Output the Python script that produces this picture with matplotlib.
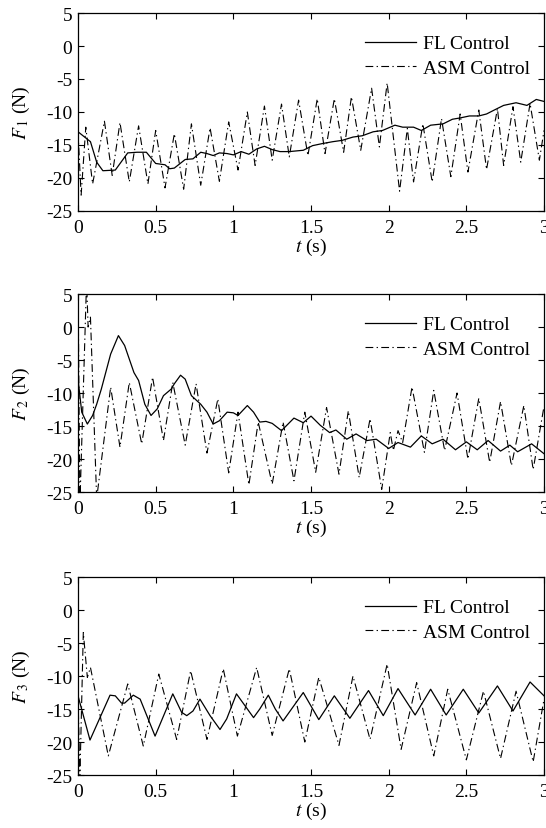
import matplotlib
matplotlib.use('Agg')
import matplotlib.pyplot as plt

plt.rcParams['font.family'] = ['Liberation Serif', 'DejaVu Serif']
plt.rcParams['mathtext.fontset'] = 'stix'
plt.rcParams['axes.unicode_minus'] = False
plt.rcParams['font.size'] = 14

# --- F1 ---
t1_fl = [0, 0.08, 0.12, 0.16, 0.24, 0.32, 0.38, 0.44, 0.50, 0.56, 0.59, 0.62, 0.69, 0.74, 0.79, 0.83,
         0.87, 0.91, 0.96, 1.00, 1.05, 1.10, 1.15, 1.20, 1.25, 1.30, 1.36, 1.45, 1.51, 1.57, 1.64,
         1.70, 1.77, 1.83, 1.90, 1.96, 2.04, 2.09, 2.16, 2.21, 2.27, 2.35, 2.41, 2.46, 2.52, 2.58,
         2.63, 2.68, 2.74, 2.82, 2.89, 2.95, 3.0]
f1_fl = [-13.0, -14.5, -17.6, -18.9, -18.8, -16.2, -16.1, -16.1, -17.8, -18.0, -18.6, -18.5, -17.2,
         -17.1, -16.1, -16.3, -16.6, -16.2, -16.3, -16.5, -16.0, -16.4, -15.6, -15.2, -15.7, -16.0,
         -16.0, -15.8, -15.1, -14.8, -14.5, -14.3, -13.8, -13.6, -13.0, -12.8, -12.0, -12.3, -12.3,
         -12.8, -12.0, -11.8, -11.1, -10.9, -10.6, -10.6, -10.3, -9.7, -9.0, -8.6, -9.0, -8.1, -8.4]
t1_asm = [0, 0.02, 0.05, 0.094, 0.17, 0.22, 0.27, 0.33, 0.39, 0.45, 0.50, 0.56, 0.62, 0.68, 0.73,
          0.79, 0.85, 0.91, 0.97, 1.03, 1.09, 1.14, 1.20, 1.25, 1.31, 1.36, 1.42, 1.48, 1.54, 1.59,
          1.65, 1.71, 1.76, 1.82, 1.89, 1.94, 1.99, 2.07, 2.12, 2.16, 2.22, 2.28, 2.34, 2.40, 2.46,
          2.51, 2.58, 2.63, 2.70, 2.74, 2.80, 2.85, 2.91, 2.97, 3.0]
f1_asm = [-13.0, -22.6, -12.3, -20.9, -11.4, -19.6, -11.6, -20.6, -12.1, -20.9, -12.8, -21.5, -13.3,
          -21.7, -11.8, -21.1, -12.4, -20.5, -11.5, -18.8, -10.0, -18.1, -9.1, -17.3, -8.8, -16.8,
          -8.2, -16.6, -8.0, -16.3, -8.0, -16.1, -7.7, -15.8, -6.4, -15.3, -5.6, -22.0, -12.5, -20.6,
          -11.8, -20.6, -11.0, -19.8, -10.3, -19.1, -9.7, -18.7, -9.5, -18.1, -9.2, -17.6, -8.7,
          -17.3, -12.8]

# --- F2 ---
t2_fl = [0, 0.024, 0.06, 0.094, 0.12, 0.15, 0.21, 0.26, 0.30, 0.36, 0.39, 0.43, 0.47, 0.51, 0.55,
         0.60, 0.62, 0.66, 0.69, 0.73, 0.79, 0.83, 0.87, 0.91, 0.96, 1.00, 1.03, 1.09, 1.13, 1.17,
         1.21, 1.25, 1.31, 1.39, 1.45, 1.50, 1.56, 1.62, 1.66, 1.73, 1.79, 1.86, 1.92, 2.00, 2.06,
         2.14, 2.21, 2.28, 2.35, 2.43, 2.50, 2.57, 2.64, 2.72, 2.78, 2.83, 2.92, 3.0]
f2_fl = [-7.9, -12.9, -14.7, -13.4, -11.7, -9.4, -4.1, -1.3, -2.8, -6.9, -8.1, -11.7, -13.4, -12.4,
         -10.4, -9.4, -8.6, -7.3, -7.9, -10.4, -11.7, -12.9, -14.7, -14.2, -12.9, -13.0, -13.4,
         -11.9, -12.9, -14.4, -14.3, -14.6, -15.7, -13.8, -14.5, -13.5, -14.9, -16.0, -15.6, -17.0,
         -16.2, -17.2, -17.0, -18.4, -17.5, -18.2, -16.5, -17.7, -17.0, -18.6, -17.4, -18.6, -17.2,
         -18.8, -17.9, -18.9, -17.7, -19.2]
t2_asm = [0, 0.012, 0.055, 0.065, 0.08, 0.12, 0.21, 0.27, 0.33, 0.41, 0.48, 0.55, 0.61, 0.69, 0.76,
          0.83, 0.90, 0.97, 1.03, 1.10, 1.16, 1.25, 1.32, 1.39, 1.46, 1.53, 1.60, 1.68, 1.74, 1.81,
          1.88, 1.955, 2.01, 2.03, 2.06, 2.09, 2.15, 2.23, 2.29, 2.36, 2.44, 2.51, 2.58, 2.65, 2.72,
          2.79, 2.87, 2.93, 3.0]
f2_asm = [7.0, -27.0, 7.0, 0.0, 1.5, -26.0, -9.1, -18.2, -8.4, -17.7, -7.6, -17.2, -8.4, -17.9,
          -8.6, -19.1, -10.9, -22.1, -12.9, -23.9, -14.4, -23.8, -14.4, -23.3, -12.9, -22.0, -12.2,
          -22.3, -12.7, -22.8, -13.9, -24.6, -16.0, -18.7, -15.7, -17.5, -9.1, -19.0, -9.6, -18.7,
          -10.0, -20.0, -10.8, -20.5, -11.3, -21.0, -11.9, -21.6, -12.0]

# --- F3 ---
t3_fl = [0, 0.077, 0.206, 0.24, 0.28, 0.30, 0.356, 0.40, 0.496, 0.61, 0.667, 0.70, 0.74, 0.785,
         0.85, 0.914, 0.957, 1.02, 1.075, 1.13, 1.17, 1.225, 1.27, 1.32, 1.45, 1.55, 1.65, 1.75,
         1.87, 1.965, 2.06, 2.17, 2.27, 2.37, 2.48, 2.58, 2.70, 2.80, 2.91, 3.0]
f3_fl = [-13.0, -19.7, -12.9, -13.0, -14.1, -14.1, -12.9, -13.5, -19.1, -12.7, -15.5, -16.0, -15.3,
         -13.5, -16.0, -18.1, -16.5, -12.7, -14.5, -16.3, -15.0, -12.9, -15.0, -16.8, -12.5, -16.6,
         -13.0, -16.4, -12.2, -16.0, -11.9, -15.9, -12.0, -15.9, -12.0, -15.6, -11.5, -15.3, -10.9,
         -13.0]
t3_asm = [0, 0.012, 0.034, 0.06, 0.08, 0.195, 0.32, 0.42, 0.52, 0.635, 0.725, 0.83, 0.935, 1.026,
          1.15, 1.25, 1.36, 1.46, 1.55, 1.68, 1.77, 1.88, 1.99, 2.08, 2.18, 2.29, 2.38, 2.50, 2.61,
          2.72, 2.82, 2.93, 3.0]
f3_asm = [-13.0, -25.5, -3.4, -10.2, -8.7, -22.1, -11.2, -20.6, -9.7, -19.6, -9.2, -19.6, -8.9,
          -19.1, -8.7, -19.0, -8.9, -20.0, -10.2, -20.5, -10.0, -19.6, -8.2, -21.1, -11.0, -22.1,
          -12.0, -22.7, -12.3, -22.5, -12.3, -23.0, -13.5]

series = [(t1_fl, f1_fl, t1_asm, f1_asm, r'$F_{\,1}$ (N)'),
          (t2_fl, f2_fl, t2_asm, f2_asm, r'$F_{\,2}$ (N)'),
          (t3_fl, f3_fl, t3_asm, f3_asm, r'$F_{\,3}$ (N)')]

fig = plt.figure(figsize=(5.46, 8.29), dpi=100)
bottoms = [0.7443, 0.4053, 0.0639]

for (tf, ff, ta, fa, ylab), b in zip(series, bottoms):
    ax = fig.add_axes([0.1429, b, 0.8535, 0.2388])
    ax.plot(tf, ff, color='black', lw=0.9, label='FL Control')
    ax.plot(ta, fa, color='black', lw=0.8, dashes=(7, 3, 1.2, 3), label='ASM Control')
    ax.set_xlim(0, 3)
    ax.set_ylim(-25, 5)
    ax.set_xticks([0, 0.5, 1, 1.5, 2, 2.5, 3])
    ax.set_xticklabels(['0', '0.5', '1', '1.5', '2', '2.5', '3'])
    ax.set_yticks([-25, -20, -15, -10, -5, 0, 5])
    ax.tick_params(direction='in', top=True, right=True, length=4, width=0.8, labelsize=14)
    ax.tick_params(axis='x', pad=5.5)
    ax.tick_params(axis='y', pad=4)
    for s in ax.spines.values():
        s.set_linewidth(0.9)
    ax.set_xlabel(r'$t$ (s)', fontsize=14, labelpad=0)
    ax.set_ylabel(ylab, fontsize=14, labelpad=10)
    ax.legend(loc='upper right', bbox_to_anchor=(0.969, 0.89), frameon=False, fontsize=14,
              handlelength=2.6, handletextpad=0.36, borderpad=0, borderaxespad=0,
              labelspacing=0.35)

fig.savefig('out.png', dpi=100)
